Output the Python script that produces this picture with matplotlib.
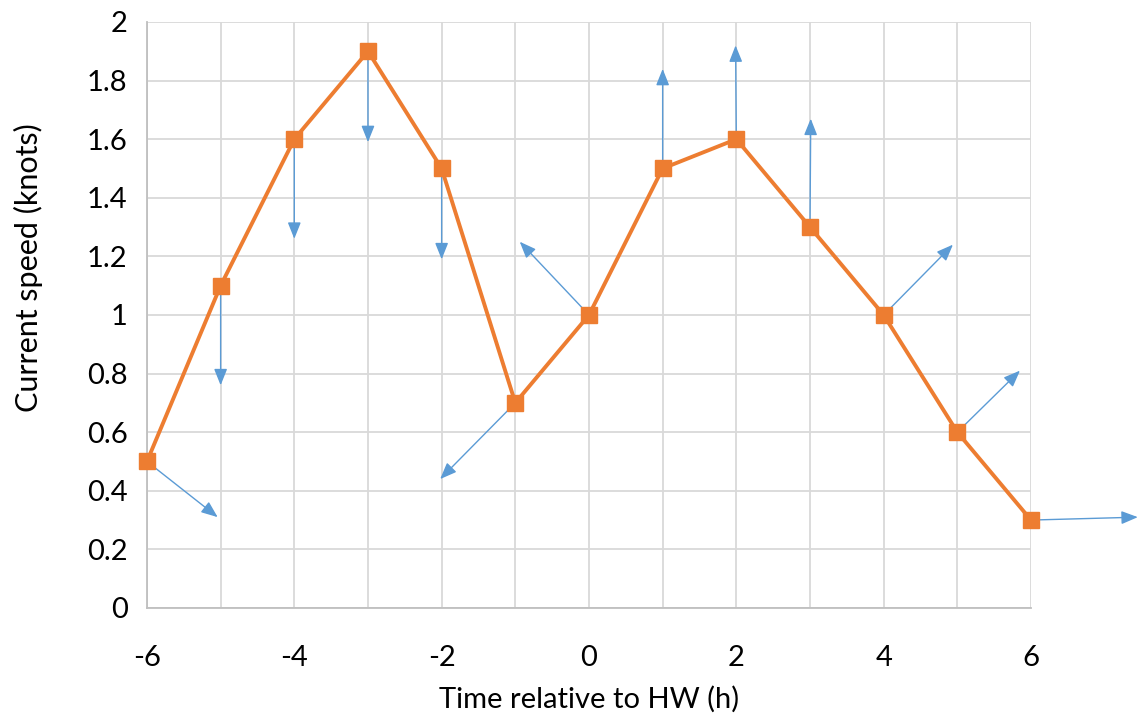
import matplotlib.pyplot as plt
import numpy as np

plt.rcParams['font.family'] = ['Lato', 'DejaVu Sans']

# hours relative to high water, current speed
hours = [-6, -5, -4, -3, -2, -1, 0, 1, 2, 3, 4, 5, 6]
speed = [0.5, 1.1, 1.6, 1.9, 1.5, 0.7, 1.0, 1.5, 1.6, 1.3, 1.0, 0.6, 0.3]

# direction arrow tips (data coords)
tip_x = [-5.04, -5.0, -4.0, -3.0, -2.0, -2.02, -0.94, 1.0, 1.99, 3.01, 4.94, 5.85, 7.45]
tip_y = [0.31, 0.76, 1.26, 1.59, 1.19, 0.44, 1.25, 1.84, 1.92, 1.67, 1.24, 0.81, 0.31]

xticks = [-6, -4, -2, 0, 2, 4, 6]
yticks = np.arange(0, 2.01, 0.2)
ylabels = ['0', '0.2', '0.4', '0.6', '0.8', '1', '1.2', '1.4', '1.6', '1.8', '2']

fig = plt.figure(figsize=(11.41, 7.14), dpi=100)
ax = fig.add_axes([0.1288, 0.1485, 0.7748, 0.8207])

grid_c = '#d9d9d9'
for xv in range(-6, 7):
    ax.axvline(xv, color=grid_c, lw=1.3, zorder=0)
for yv in yticks:
    ax.axhline(yv, color=grid_c, lw=1.3, zorder=0)

# arrows first, under the line
for x0, y0, x1, y1 in zip(hours, speed, tip_x, tip_y):
    ax.annotate('', xy=(x1, y1), xytext=(x0, y0), annotation_clip=False,
                arrowprops=dict(arrowstyle='-|>,head_length=1.0,head_width=0.4',
                                color='#5b9bd5', lw=1.0, shrinkA=0, shrinkB=0),
                zorder=2)

ax.plot(hours, speed, color='#ed7d31', lw=2.8, marker='s', markersize=11.5,
        zorder=3, clip_on=False)

ax.set_xlim(-6, 6)
ax.set_ylim(0, 2)
ax.set_xticks(xticks)
ax.set_xticklabels([str(t) for t in xticks])
ax.set_yticks(yticks)
ax.set_yticklabels(ylabels)
ax.tick_params(length=0, labelsize=21, pad=14)
ax.tick_params(axis='x', pad=27)
for s in ['top', 'right']:
    ax.spines[s].set_visible(False)
for s in ['left', 'bottom']:
    ax.spines[s].set_color('#bfbfbf')
    ax.spines[s].set_linewidth(1.3)

ax.set_xlabel('Time relative to HW (h)', fontsize=21, labelpad=10)
ax.set_ylabel('Current speed (knots)', fontsize=22)
ax.yaxis.set_label_coords(-0.118, 0.58)

fig.savefig('out.png', dpi=100)
